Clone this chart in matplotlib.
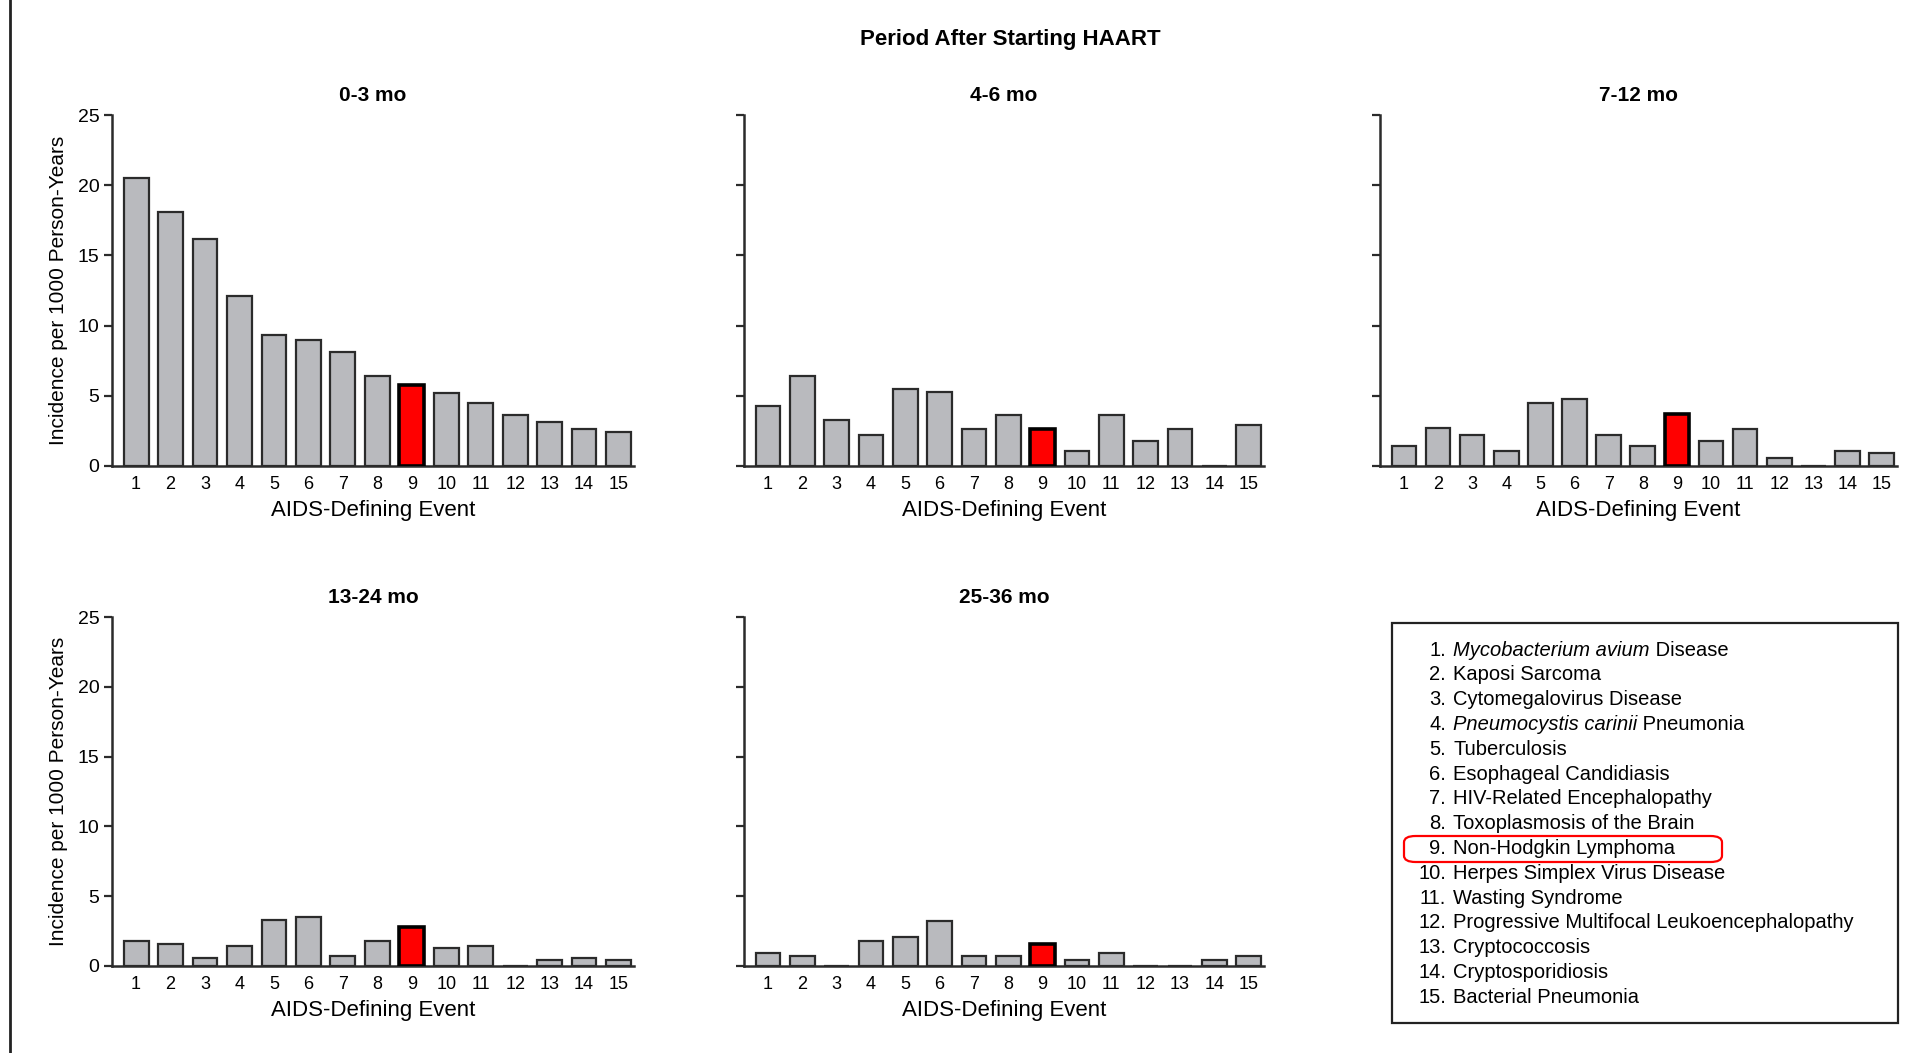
import matplotlib
matplotlib.use("Agg")
import matplotlib.pyplot as plt
from matplotlib import font_manager
from matplotlib.patches import Rectangle, FancyBboxPatch
from matplotlib.lines import Line2D

## pick a narrow helvetica-like face if there is one
names = set(f.name for f in font_manager.fontManager.ttflist)
fam = 'Liberation Sans Narrow' if 'Liberation Sans Narrow' in names else 'Liberation Sans'
plt.rcParams['font.family'] = [fam, 'DejaVu Sans']

## data
periods = ['0-3 mo', '4-6 mo', '7-12 mo', '13-24 mo', '25-36 mo']
events = list(range(1, 16))
inc_0_3 = [20.5, 18.1, 16.2, 12.1, 9.3, 9.0, 8.1, 6.4, 5.8, 5.2, 4.5, 3.6, 3.1, 2.6, 2.4]
inc_4_6 = [4.3, 6.4, 3.3, 2.2, 5.5, 5.3, 2.6, 3.6, 2.6, 1.1, 3.6, 1.8, 2.6, 0, 2.9]
inc_7_12 = [1.4, 2.7, 2.2, 1.1, 4.5, 4.8, 2.2, 1.4, 3.7, 1.8, 2.6, 0.6, 0, 1.1, 0.9]
inc_13_24 = [1.8, 1.6, 0.6, 1.4, 3.3, 3.5, 0.7, 1.8, 2.8, 1.3, 1.4, 0, 0.4, 0.6, 0.4]
inc_25_36 = [0.9, 0.7, 0, 1.8, 2.1, 3.2, 0.7, 0.7, 1.6, 0.4, 0.9, 0, 0, 0.4, 0.7]
highlight = 9

## (italic part, plain part)
event_names = [
    ('Mycobacterium avium', ' Disease'),
    ('', 'Kaposi Sarcoma'),
    ('', 'Cytomegalovirus Disease'),
    ('Pneumocystis carinii', ' Pneumonia'),
    ('', 'Tuberculosis'),
    ('', 'Esophageal Candidiasis'),
    ('', 'HIV-Related Encephalopathy'),
    ('', 'Toxoplasmosis of the Brain'),
    ('', 'Non-Hodgkin Lymphoma'),
    ('', 'Herpes Simplex Virus Disease'),
    ('', 'Wasting Syndrome'),
    ('', 'Progressive Multifocal Leukoencephalopathy'),
    ('', 'Cryptococcosis'),
    ('', 'Cryptosporidiosis'),
    ('', 'Bacterial Pneumonia'),
]

W, H = 1923, 1053
fig = plt.figure(figsize=(W / 100, H / 100), dpi=100)

def px(x0, x1, ytop, ybot):
    return [x0 / W, 1 - ybot / H, (x1 - x0) / W, (ybot - ytop) / H]

boxes = [px(112, 634, 115, 466), px(744, 1264, 115, 466), px(1380, 1897, 115, 466),
         px(112, 634, 617, 966), px(744, 1264, 617, 966)]
series = [inc_0_3, inc_4_6, inc_7_12, inc_13_24, inc_25_36]
edge = '#2b2b2b'

for i in range(5):
    ax = fig.add_axes(boxes[i])
    vals = series[i]
    cols = ['#ff0000' if e == highlight else '#b9babe' for e in events]
    lws = [2.6 if e == highlight else 1.6 for e in events]
    ecs = ['#000000' if e == highlight else edge for e in events]
    ax.bar(events, vals, width=0.72, color=cols, edgecolor=ecs, linewidth=lws, zorder=3)
    ax.set_xlim(0.3, 15.45)
    ax.set_ylim(0, 25)
    ax.set_yticks([0, 5, 10, 15, 20, 25])
    ax.set_xticks(events)
    ax.spines['top'].set_visible(False)
    ax.spines['right'].set_visible(False)
    for s in ['left', 'bottom']:
        ax.spines[s].set_color(edge)
        ax.spines[s].set_linewidth(1.8)
    ax.tick_params(axis='x', length=0, pad=7, labelsize=13)
    ax.tick_params(axis='y', length=6, width=1.6, color=edge, pad=3, labelsize=14)
    ax.set_xlabel('AIDS-Defining Event', fontsize=16, labelpad=5)
    if i in (0, 3):
        ax.set_ylabel('Incidence per 1000 Person-Years', fontsize=15, labelpad=7)
    else:
        ax.set_yticklabels([])
    ax.set_title(periods[i], fontsize=15, fontweight='bold', pad=10)

fig.text(1010 / W, 1 - 40 / H, 'Period After Starting HAART', ha='center', va='center',
         fontsize=16, fontweight='bold')

## left border line
fig.add_artist(Line2D([10 / W, 10 / W], [0, 1], color='#222222', lw=2))

## legend box
fig.add_artist(Rectangle((1392 / W, 1 - 1023 / H), 506 / W, 400 / H, transform=fig.transFigure,
                         fill=False, edgecolor='#222222', lw=1.6))
fig.add_artist(FancyBboxPatch((1404 / W, 1 - 862 / H), 318 / W, 26 / H,
                              boxstyle='round,pad=0,rounding_size=0.006',
                              transform=fig.transFigure, fill=False, edgecolor='#ff0000', lw=1.6))

renderer = fig.canvas.get_renderer()
y0, dy = 650, 24.8
for k, (ital, rest) in enumerate(event_names):
    yy = 1 - (y0 + k * dy) / H
    fig.text(1446 / W, yy, '%d.' % (k + 1), ha='right', va='center', fontsize=14.5)
    xx = 1453 / W
    if ital:
        t = fig.text(xx, yy, ital, ha='left', va='center', fontsize=14.5, style='italic')
        bb = t.get_window_extent(renderer)
        xx = bb.x1 / W
    fig.text(xx, yy, rest, ha='left', va='center', fontsize=14.5)

fig.savefig('out.png', dpi=100, facecolor='white')
